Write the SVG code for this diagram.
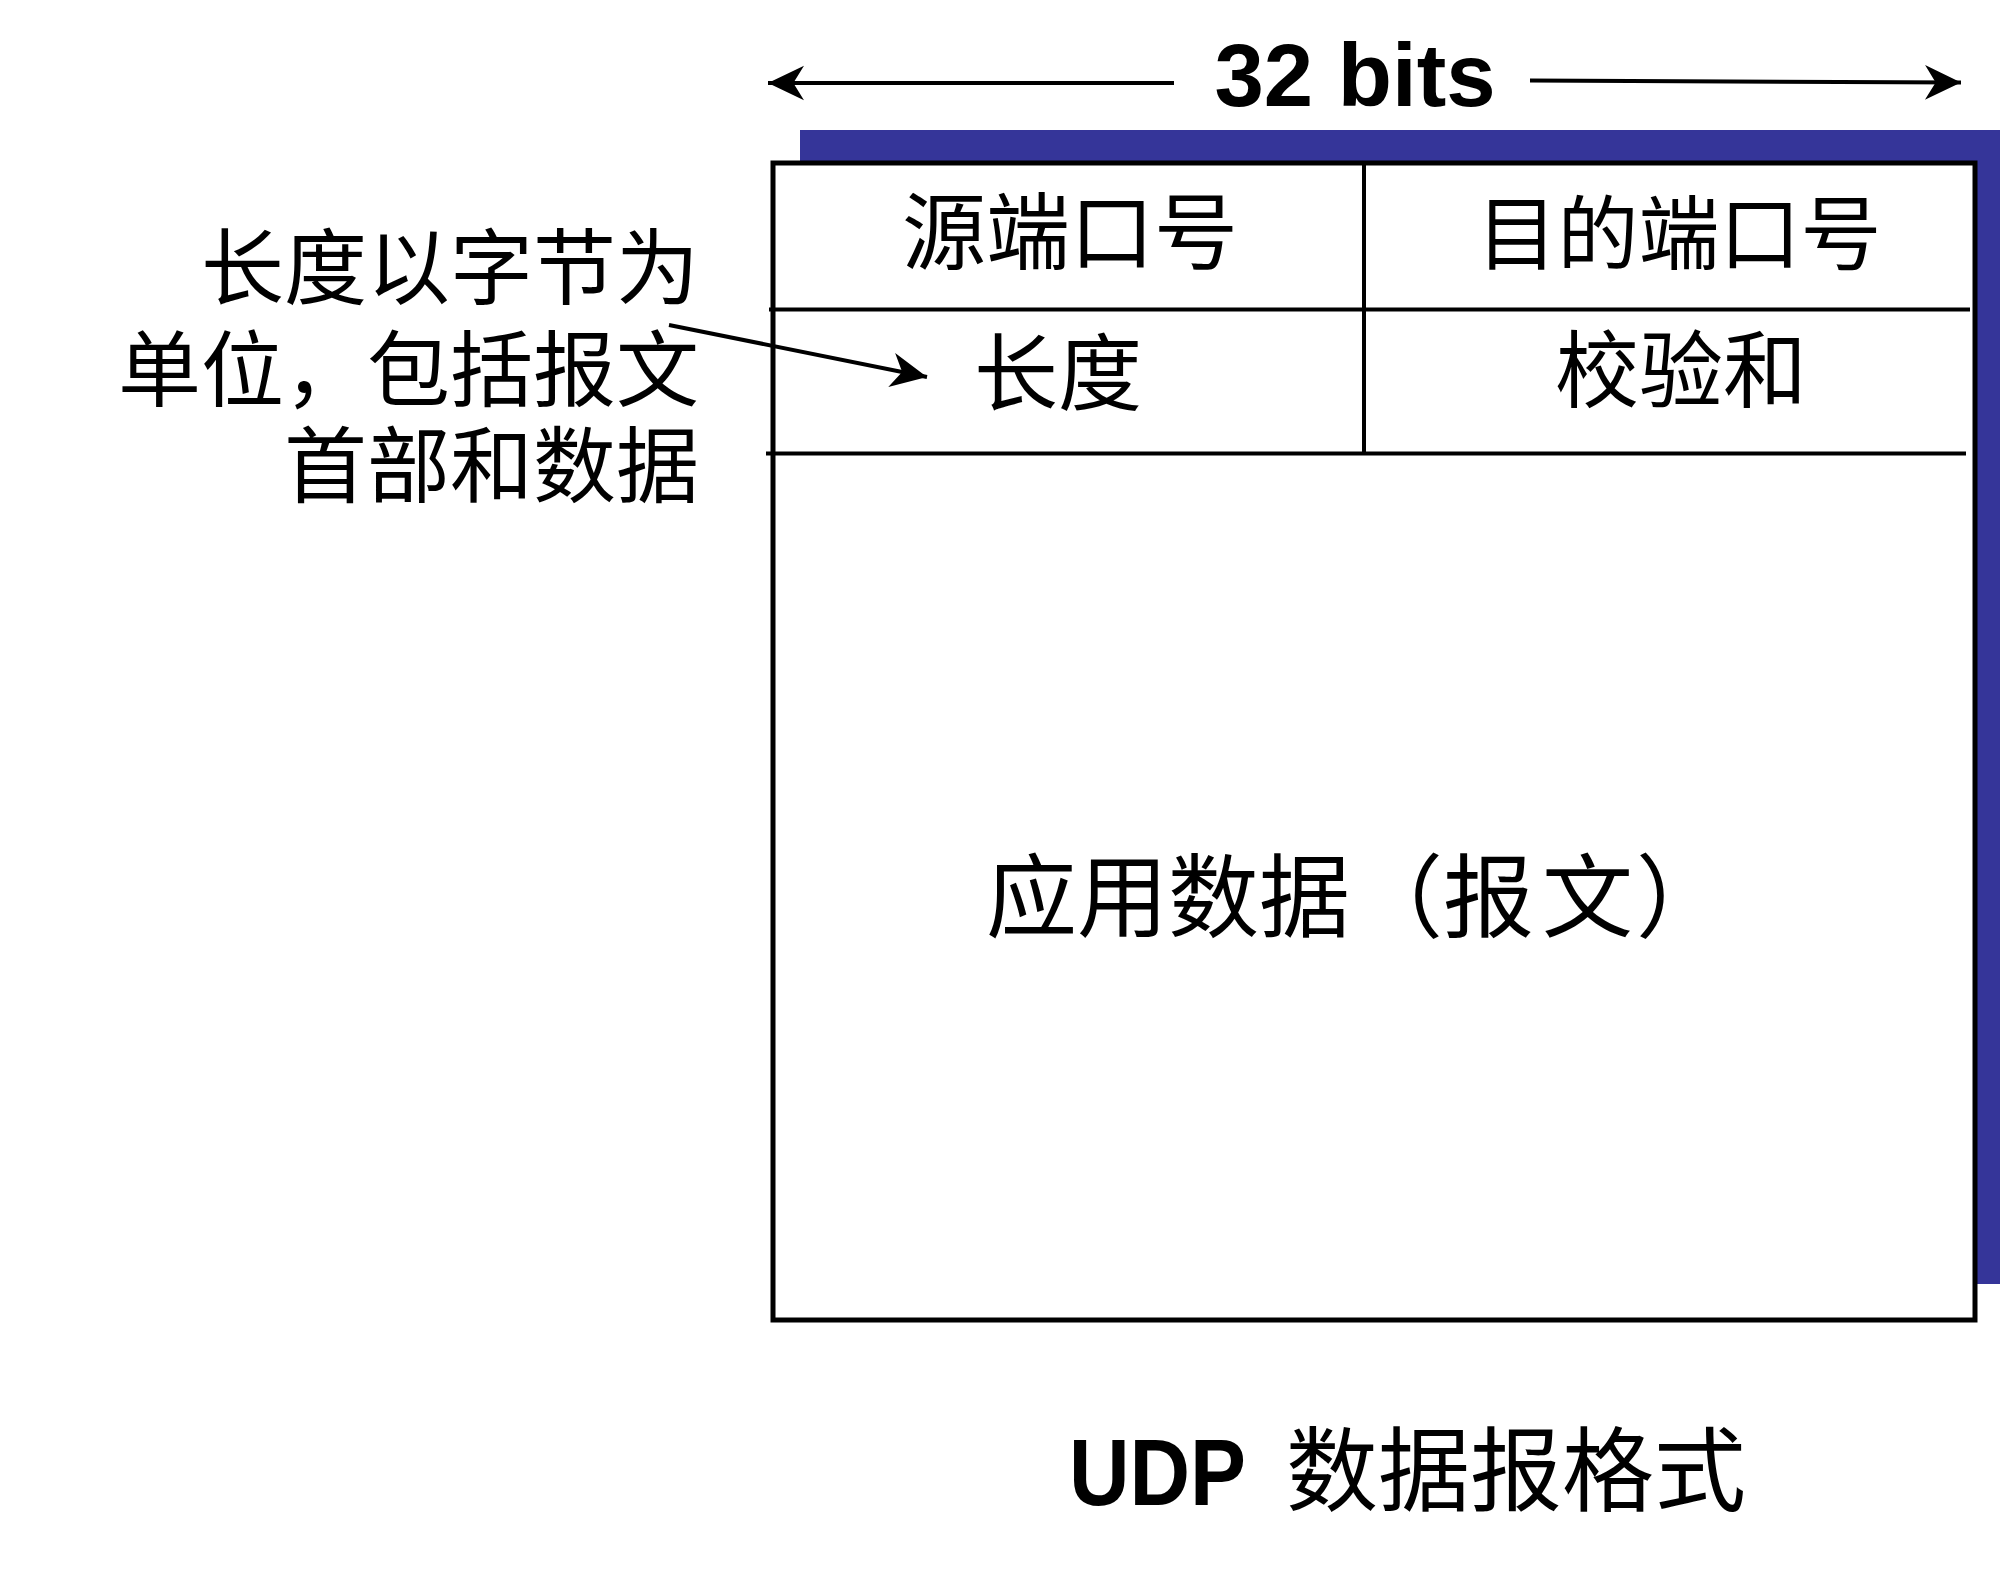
<svg xmlns="http://www.w3.org/2000/svg" width="2000" height="1583" viewBox="0 0 2000 1583">
<style>
.cjk{font-family:"Noto Sans CJK SC","Noto Sans CJK TC",sans-serif;fill:#000}
.lat{font-family:"Liberation Sans",Arial,sans-serif;font-weight:bold;fill:#000}
.ln{stroke:#000;stroke-width:4;fill:none}
</style>
<defs>
<marker id="ah" markerUnits="userSpaceOnUse" markerWidth="40" markerHeight="40" refX="0" refY="0" orient="auto" overflow="visible" viewBox="-30 -15 30 30">
<path d="M0,0 L-27,-13 L-19,0 L-27,13 Z" fill="#000"/>
</marker>
</defs>
<rect width="2000" height="1583" fill="#fff"/>
<g id="shadow"><rect x="800" y="130" width="1200" height="1154" fill="#353599"/></g>
<g id="datagram">
<rect x="773" y="163" width="1202" height="1157" fill="#fff" stroke="#000" stroke-width="5"/>
</g>
<g id="connectors">
<line class="ln" x1="769" y1="309.5" x2="1970" y2="309.5"/>
<line class="ln" x1="766" y1="453.5" x2="1966" y2="453.5"/>
<line class="ln" x1="1364" y1="163" x2="1364" y2="453"/>
<line class="ln" x1="1174" y1="83" x2="768" y2="83" marker-end="url(#ah)"/>
<line class="ln" x1="1530" y1="80.5" x2="1961" y2="82.5" marker-end="url(#ah)"/>
<line class="ln" x1="669" y1="325" x2="927" y2="377" marker-end="url(#ah)"/>
</g>
<g id="label-32bits"><text class="lat" x="1355" y="106" font-size="89" text-anchor="middle" textLength="281" lengthAdjust="spacingAndGlyphs">32 bits</text></g>
<g id="field-src"><text class="cjk" x="1070" y="263" font-size="84" text-anchor="middle">源端口号</text></g>
<g id="field-dst"><text class="cjk" x="1679" y="263" font-size="81" text-anchor="middle">目的端口号</text></g>
<g id="field-len"><text class="cjk" x="1058" y="404" font-size="84" text-anchor="middle">长度</text></g>
<g id="field-chk"><text class="cjk" x="1681" y="401" font-size="84" text-anchor="middle">校验和</text></g>
<g id="field-data"><text class="cjk" x="986 1077 1168 1259 1352 1443 1542 1636" y="930" font-size="91">应用数据（报文）</text></g>
<g id="note">
<text class="cjk" font-size="83" text-anchor="end" x="699" y="298">长度以字节为</text>
<text class="cjk" font-size="83" text-anchor="end" x="699" y="400">单位，包括报文</text>
<text class="cjk" font-size="83" text-anchor="end" x="699" y="496">首部和数据</text>
</g>
<g id="caption">
<text class="lat" x="1069" y="1505" font-size="95" textLength="177" lengthAdjust="spacingAndGlyphs">UDP</text>
<text class="cjk" x="1286" y="1504" font-size="92">数据报格式</text>
</g>
</svg>
